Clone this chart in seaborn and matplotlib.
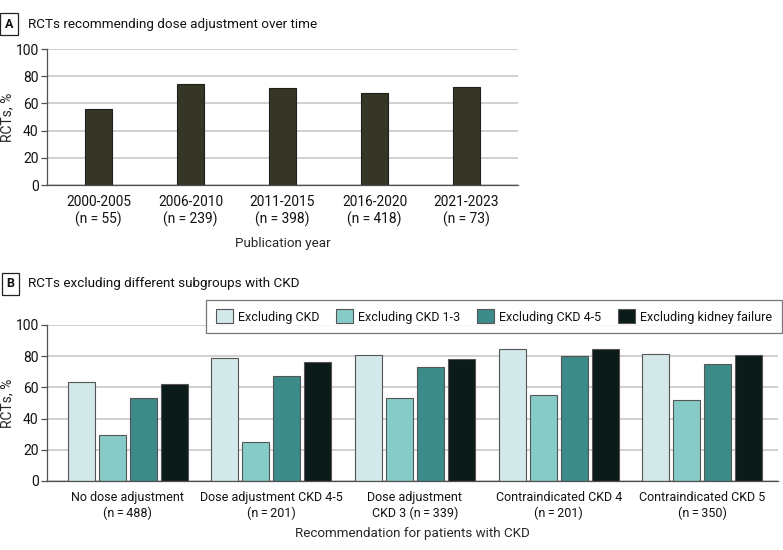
import pandas as pd
import matplotlib.pyplot as plt
import seaborn as sns
import numpy as np

# Panel A data
periods = ['2000-2005', '2006-2010', '2011-2015', '2016-2020', '2021-2023']
period_n = [55, 239, 398, 418, 73]
pct_adjust = [56, 74, 71, 67.4, 72]

# Panel B data
recs = ['No dose adjustment', 'Dose adjustment CKD 4-5', 'Dose adjustment CKD 3',
        'Contraindicated CKD 4', 'Contraindicated CKD 5']
rec_labels = ['No dose adjustment\n(n\u2009=\u2009488)', 'Dose adjustment CKD 4-5\n(n\u2009=\u2009201)',
              'Dose adjustment\nCKD 3 (n\u2009=\u2009339)', 'Contraindicated CKD 4\n(n\u2009=\u2009201)',
              'Contraindicated CKD 5\n(n\u2009=\u2009350)']
groups = ['Excluding CKD', 'Excluding CKD 1-3', 'Excluding CKD 4-5', 'Excluding kidney failure']
excl_ckd = [63.3, 79.0, 80.6, 84.8, 81.2]
excl_ckd13 = [29.3, 25.2, 53.2, 55.1, 52.1]
excl_ckd45 = [53.4, 67.1, 72.9, 79.9, 74.8]
excl_kf = [62.2, 76.1, 78.2, 84.4, 80.8]

colors_b = ['#d3e8e9', '#86cbc8', '#3b8b89', '#0b1b1a']
bar_a = '#363626'
grid_c = '#c4c4c4'
spine_c = '#505050'

sns.set_style('white')
plt.rcParams['font.family'] = ['Roboto', 'DejaVu Sans']
plt.rcParams['font.size'] = 9.5
plt.rcParams['text.color'] = '#111111'
plt.rcParams['xtick.color'] = '#111111'
plt.rcParams['ytick.color'] = '#111111'

fig = plt.figure(figsize=(7.83, 5.50), dpi=100)


def style_axis(ax, xtick_size, ylab_x):
    ax.set_ylim(0, 100)
    ax.set_yticks(range(0, 101, 20))
    ax.yaxis.grid(True, color=grid_c, linewidth=1.1)
    ax.xaxis.grid(False)
    ax.set_axisbelow(True)
    for s in ['top', 'right']:
        ax.spines[s].set_visible(False)
    for s in ['left', 'bottom']:
        ax.spines[s].set_color(spine_c)
        ax.spines[s].set_linewidth(0.9)
    ax.tick_params(axis='y', left=True, length=4, width=0.9, color=spine_c,
                   labelsize=10, pad=2, labelcolor='#111111')
    ax.tick_params(axis='x', bottom=False, labelsize=xtick_size, pad=4)
    ax.set_ylabel('RCTs, %', fontsize=10)
    ax.yaxis.set_label_coords(ylab_x, 0.5)


# Panel A
ax1 = fig.add_axes([0.060, 0.6636, 0.6016, 0.2473])
df_a = pd.DataFrame({'period': periods, 'pct': pct_adjust})
sns.barplot(data=df_a, x='period', y='pct', color=bar_a, width=0.29,
            edgecolor='#202018', linewidth=0.8, ax=ax1, saturation=1)
style_axis(ax1, 9.9, -0.070)
ax1.set_xlim(-0.56, 4.56)
ax1.set_xticks(range(len(periods)))
ax1.set_xticklabels([f'{p}\n(n = {n})' for p, n in zip(periods, period_n)])
ax1.set_xlabel('Publication year', fontsize=9.6, labelpad=7)

# Panel B
ax2 = fig.add_axes([0.060, 0.1255, 0.9336, 0.2836])
df_b = pd.DataFrame({
    'rec': recs * 4,
    'group': np.repeat(groups, len(recs)),
    'pct': excl_ckd + excl_ckd13 + excl_ckd45 + excl_kf,
})
sns.barplot(data=df_b, x='rec', y='pct', hue='group', hue_order=groups,
            palette=colors_b, width=0.863, gap=0.13, edgecolor='#555555',
            linewidth=0.8, ax=ax2, saturation=1, legend=False)
style_axis(ax2, 9.0, -0.045)
ax2.set_xlim(-0.562, 4.527)
ax2.set_xticks(range(len(recs)))
ax2.set_xticklabels(rec_labels)
ax2.set_xlabel('Recommendation for patients with CKD', fontsize=9.6, labelpad=5)

# Legend
handles = [plt.Rectangle((0, 0), 1, 1, facecolor=c, edgecolor='#555555', linewidth=0.8)
           for c in colors_b]
leg = fig.legend(handles, groups, loc='upper right', bbox_to_anchor=(0.9985, 0.4545),
                 ncol=4, frameon=True, fancybox=False, fontsize=9.0,
                 handlelength=1.35, handleheight=1.35, handletextpad=0.45,
                 columnspacing=1.3, borderpad=0.75, borderaxespad=0)
leg.get_frame().set_edgecolor('#555555')
leg.get_frame().set_linewidth(0.9)

# Panel titles
box = dict(boxstyle='square,pad=0.35', facecolor='white', edgecolor='#222222', linewidth=0.9)
fig.text(0.0115, 0.956, 'A', fontsize=9, fontweight='bold', va='center', ha='center', bbox=box)
fig.text(0.036, 0.956, 'RCTs recommending dose adjustment over time', fontsize=9.7, va='center')
fig.text(0.0135, 0.484, 'B', fontsize=9, fontweight='bold', va='center', ha='center', bbox=box)
fig.text(0.036, 0.484, 'RCTs excluding different subgroups with CKD', fontsize=9.7, va='center')

plt.savefig('out.png', dpi=100)
